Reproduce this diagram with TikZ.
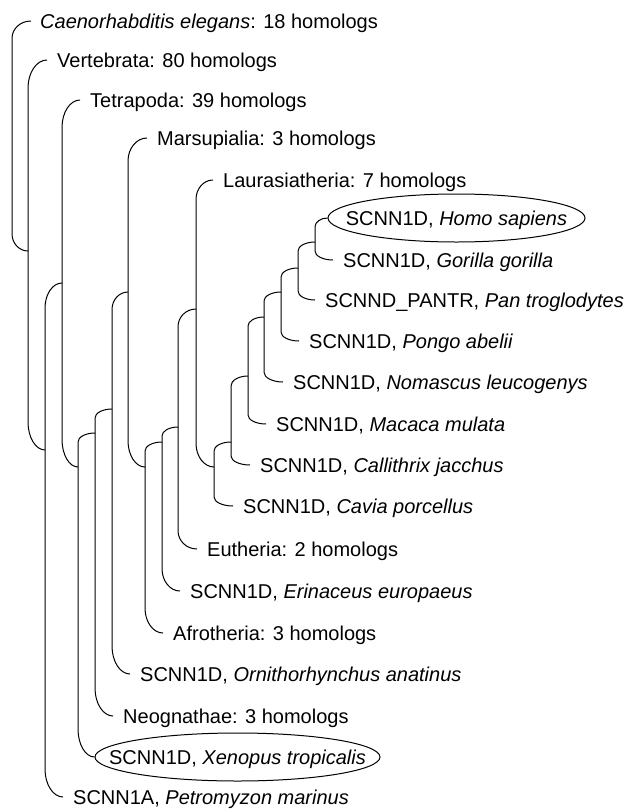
\documentclass[tikz,border=0pt]{standalone}
\usepackage{fontspec}
\setmainfont{Liberation Sans}
\usetikzlibrary{calc,shapes.geometric}

% One arm of a clade: straight down/up the clade bar, then a quarter-ellipse
% bend that runs horizontally into the child (label tip or child bar).
\newcommand\arm[2]{%
  \draw[branch] let \p1=(#1), \p2=(#2),
      \n2={(\y2>\y1 ? 1 : -1)*min(max(9,0.15*abs(\y2-\y1)),28)}
    in (\p1) -- (\x1,{\y2-\n2})
       .. controls (\x1,{\y2-0.448*\n2}) and ({\x1+0.448*(\x2-\x1)},\y2) .. (\p2);
}

\begin{document}
\begin{tikzpicture}[x=1pt,y=1pt,
  branch/.style={line width=1pt,black},
  lbl/.style={anchor=west,inner sep=0pt,text height=14pt,text depth=0pt,
              font=\fontsize{20}{24}\selectfont},
  ring/.style={draw,ellipse,line width=1pt,inner sep=0pt,minimum height=48pt}]
\useasboundingbox (0,0) rectangle (633,-809);

% clade bars: x of the bar, y where the parent's arm meets it
\coordinate (root) at (12,-136);
\coordinate (n1)  at (28,-251);
\coordinate (n2)  at (45,-450);
\coordinate (n3)  at (62,-283);
\coordinate (n4)  at (78,-467);
\coordinate (n5)  at (95,-433);
\coordinate (n6)  at (112,-409);
\coordinate (n7)  at (128,-292);
\coordinate (n8)  at (145,-467);
\coordinate (n9)  at (162,-442);
\coordinate (n10) at (178,-427);
\coordinate (n11) at (196,-309);
\coordinate (n12) at (214,-467);
\coordinate (n13) at (231,-442);
\coordinate (n14) at (248,-376);
\coordinate (n15) at (264,-317);
\coordinate (n16) at (281,-292);
\coordinate (n17) at (298,-268);
\coordinate (n18) at (315,-242);

% leaves
\node[lbl] (caeno) at (40,-21) {\textit{Caenorhabditis elegans}: 18 homologs};
\node[lbl] (vert) at (57,-60) {Vertebrata: 80 homologs};
\node[lbl] (tetra) at (90,-100) {Tetrapoda: 39 homologs};
\node[lbl] (marsu) at (157,-138) {Marsupialia: 3 homologs};
\node[lbl] (laura) at (223,-180) {Laurasiatheria: 7 homologs};
\node[ring,minimum width=257pt] (homoring) at (456.5,-218) {};
\node[lbl,anchor=center] (homo) at (homoring.center) {SCNN1D, \textit{Homo sapiens}};
\node[lbl] (gorilla) at (343,-260) {SCNN1D, \textit{Gorilla gorilla}};
\node[lbl] (pan) at (325,-300) {SCNND\_PANTR, \textit{Pan troglodytes}};
\node[lbl] (pongo) at (309,-341) {SCNN1D, \textit{Pongo abelii}};
\node[lbl] (nomascus) at (293,-382) {SCNN1D, \textit{Nomascus leucogenys}};
\node[lbl] (macaca) at (276,-424) {SCNN1D, \textit{Macaca mulata}};
\node[lbl] (calli) at (260,-465) {SCNN1D, \textit{Callithrix jacchus}};
\node[lbl] (cavia) at (243,-506) {SCNN1D, \textit{Cavia porcellus}};
\node[lbl] (euth) at (207,-549) {Eutheria: 2 homologs};
\node[lbl] (erin) at (190,-591) {SCNN1D, \textit{Erinaceus europaeus}};
\node[lbl] (afro) at (173,-633) {Afrotheria: 3 homologs};
\node[lbl] (ornith) at (140,-674) {SCNN1D, \textit{Ornithorhynchus anatinus}};
\node[lbl] (neog) at (123,-716) {Neognathae: 3 homologs};
\node[ring,minimum width=285pt] (xenoring) at (237.5,-757) {};
\node[lbl,anchor=center] (xeno) at (xenoring.center) {SCNN1D, \textit{Xenopus tropicalis}};
\node[lbl] (petro) at (73,-797) {SCNN1A, \textit{Petromyzon marinus}};

% branches
\arm{root}{[xshift=-9pt]caeno.west}
\arm{root}{n1}
\arm{n1}{[xshift=-10pt]vert.west}
\arm{n1}{n2}
\arm{n2}{n3}
\arm{n2}{[xshift=-10pt]petro.west}
\arm{n3}{[xshift=-10pt]tetra.west}
\arm{n3}{n4}
\arm{n4}{n5}
\arm{n4}{xenoring.west}
\arm{n5}{n6}
\arm{n5}{[xshift=-10pt]neog.west}
\arm{n6}{n7}
\arm{n6}{[xshift=-10pt]ornith.west}
\arm{n7}{[xshift=-10pt]marsu.west}
\arm{n7}{n8}
\arm{n8}{n9}
\arm{n8}{[xshift=-10pt]afro.west}
\arm{n9}{n10}
\arm{n9}{[xshift=-10pt]erin.west}
\arm{n10}{n11}
\arm{n10}{[xshift=-10pt]euth.west}
\arm{n11}{[xshift=-10pt]laura.west}
\arm{n11}{n12}
\arm{n12}{n13}
\arm{n12}{[xshift=-10pt]cavia.west}
\arm{n13}{n14}
\arm{n13}{[xshift=-10pt]calli.west}
\arm{n14}{n15}
\arm{n14}{[xshift=-10pt]macaca.west}
\arm{n15}{n16}
\arm{n15}{[xshift=-10pt]nomascus.west}
\arm{n16}{n17}
\arm{n16}{[xshift=-10pt]pongo.west}
\arm{n17}{n18}
\arm{n17}{[xshift=-10pt]pan.west}
\arm{n18}{homoring.west}
\arm{n18}{[xshift=-10pt]gorilla.west}
\end{tikzpicture}
\end{document}
